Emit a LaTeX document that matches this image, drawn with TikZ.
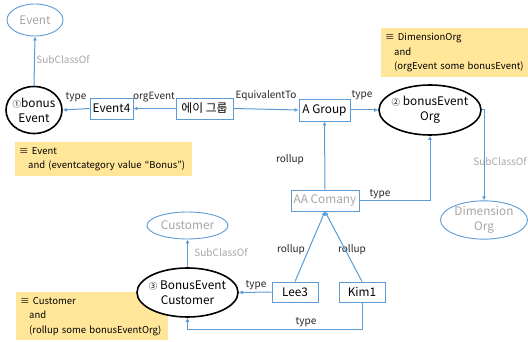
\documentclass[tikz,border=0pt]{standalone}
\usepackage{fontspec}
\setmainfont{Noto Sans CJK KR}
\usetikzlibrary{arrows.meta,shapes.geometric}
\definecolor{lblue}{HTML}{5B9BD5}
\definecolor{ygold}{HTML}{FFE699}
\definecolor{gtext}{HTML}{A6A6A6}
\newcommand{\zw}[1]{\makebox[0pt]{#1}}
\begin{document}
\begin{tikzpicture}[x=1pt,y=-1pt,
  cls/.style={ellipse, draw=black, fill=white, line width=1.6pt, align=center, inner sep=0pt,
    font=\fontsize{11.8}{15}\selectfont},
  extcls/.style={ellipse, draw=lblue, fill=white, line width=0.9pt, align=center, inner sep=0pt,
    text=gtext, font=\fontsize{11.8}{15}\selectfont},
  inst/.style={rectangle, draw=lblue, fill=white, line width=0.9pt, inner sep=0pt,
    font=\fontsize{11.8}{15}\selectfont},
  lbl/.style={font=\fontsize{10}{12}\selectfont, text=black!85, inner sep=0pt},
  glbl/.style={lbl, text=gtext},
  note/.style={fill=ygold, anchor=north west, align=left, inner xsep=4pt, inner ysep=2pt,
    font=\fontsize{9.5}{14.5}\selectfont},
  conn/.style={draw=lblue, line width=1pt, -{Latex[length=4pt,width=4pt]}}
]
\useasboundingbox (0,0) rectangle (528,342);

% notes (drawn first, under the class ellipses)
\node[note, minimum width=177, minimum height=34, text width=169] (note1) at (15,142)
  {\mbox{≡ Event}\\\mbox{\hspace*{9pt}and (eventcategory value “Bonus”)}};
\node[note, minimum width=147, minimum height=49, text width=139] (note2) at (381,28)
  {\mbox{≡ DimensionOrg}\\\mbox{\hspace*{9pt}and}\\\mbox{\hspace*{9pt}(orgEvent some bonusEvent)}};
\node[note, minimum width=152, minimum height=48, text width=144] (note3) at (16,292)
  {\mbox{≡ Customer}\\\mbox{\hspace*{9pt}and}\\\mbox{\hspace*{9pt}(rollup some bonusEventOrg)}};

% class nodes
\node[extcls, minimum width=56, minimum height=32] (event) at (35,20) {\zw{Event}};
\node[cls, minimum width=56, minimum height=47] (bonusevent) at (34,110)
  {\zw{{\fontsize{8.5}{10}\selectfont ①}bonus}\\\zw{Event}};
\node[cls, minimum width=102, minimum height=50] (bonusorg) at (430,110)
  {\zw{{\fontsize{8.5}{10}\selectfont ②} bonusEvent}\\\zw{Org}};
\node[extcls, minimum width=87, minimum height=33] (dimorg) at (484,220) {\zw{Dimension}\\\zw{Org}};
\node[extcls, minimum width=81, minimum height=27] (customer) at (187.5,225.5) {\zw{Customer}};
\node[cls, minimum width=101, minimum height=49] (becust) at (187.5,292.5)
  {\zw{{\fontsize{8.5}{10}\selectfont ③} BonusEvent}\\\zw{Customer}};

% instance nodes
\node[inst, minimum width=43, minimum height=21] (event4) at (111.5,108.5) {Event4};
\node[inst, minimum width=57, minimum height=21] (eigroup) at (204.5,108.5) {에이 그룹};
\node[inst, minimum width=51, minimum height=22] (agroup) at (324.5,110) {A Group};
\node[inst, minimum width=68, minimum height=21, text=gtext] (aacomany) at (325,200.5) {AA Comany};
\node[inst, minimum width=46, minimum height=20] (lee3) at (295,292) {Lee3};
\node[inst, minimum width=46, minimum height=20] (kim1) at (362,292) {Kim1};

% labels
\node[glbl] (l1) at (63,60) {SubClassOf};
\node[lbl] (l2) at (76,97) {type};
\node[lbl] (l3) at (154,97) {orgEvent};
\node[lbl] (l4) at (266,96) {EquivalentTo};
\node[lbl] (l5) at (362,95) {type};
\node[lbl] (l6) at (290,160) {rollup};
\node[glbl] (l7) at (500,162) {SubClassOf};
\node[lbl] (l8) at (380,194) {type};
\node[lbl] (l9) at (291,250) {rollup};
\node[lbl] (l10) at (352,250) {rollup};
\node[glbl] (l11) at (221,253) {SubClassOf};
\node[lbl] (l12) at (256,285) {type};
\node[lbl] (l13) at (306,322) {type};

% connectors
\draw[conn] (bonusevent.north) -- (event.south);
\draw[conn] (event4.west) -- (bonusevent.east);
\draw[conn] (eigroup.west) -- (event4.east);
\draw[conn] (eigroup.east) -- (agroup.west);
\draw[conn] (agroup.east) -- (bonusorg.west);
\draw[conn] (bonusorg.east) -| (dimorg.north);
\draw[conn] (aacomany.north) -- (agroup.south);
\draw[conn] (aacomany.east) -| (bonusorg.south);
\draw[conn] (lee3.north) -- (aacomany.south);
\draw[conn] (kim1.north) -- (aacomany.south);
\draw[conn] (becust.north) -- (customer.south);
\draw[conn] (lee3.west) -- (becust.east);
\coordinate (kimturn) at (362,329);
\draw[conn] (kim1.south) -- (kimturn) -| (becust.south);
\end{tikzpicture}
\end{document}
